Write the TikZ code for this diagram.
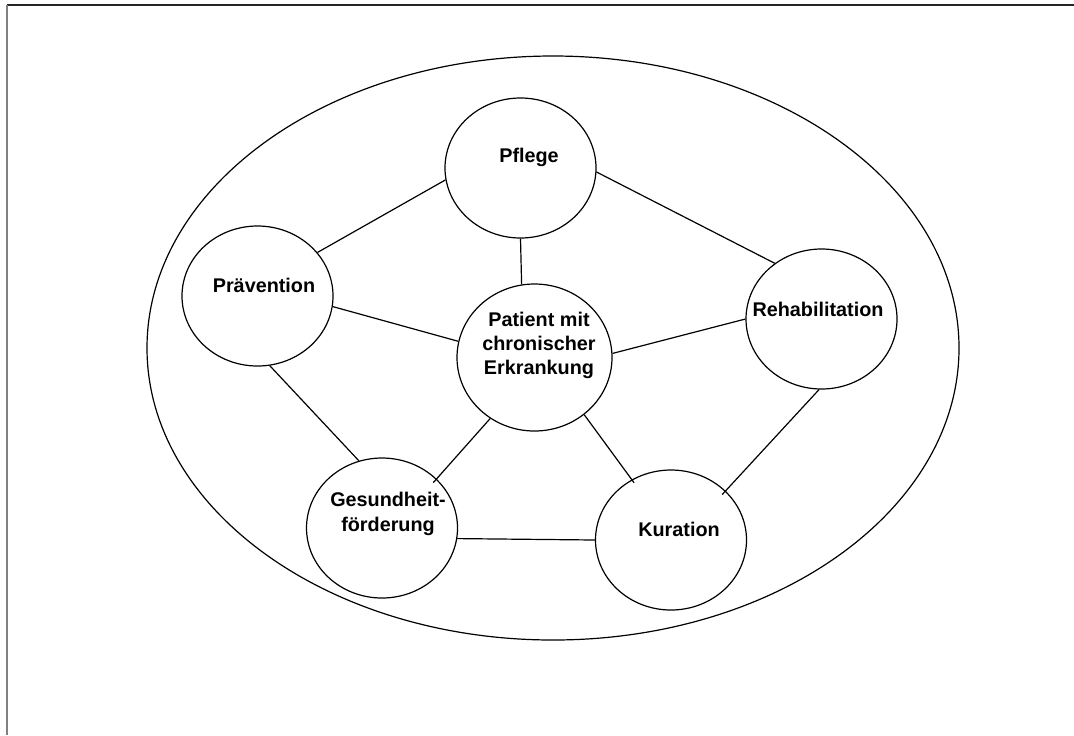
\documentclass[tikz,border=0pt]{standalone}
\usepackage{fontspec}
\setmainfont{Liberation Sans}
\usetikzlibrary{shapes.geometric}
\begin{document}
\begin{tikzpicture}[x=0.5pt,y=-0.5pt,
  bub/.style={draw,ellipse,line width=0.6pt,inner sep=0pt,minimum width=75.5pt,minimum height=70pt},
  lbl/.style={font=\fontsize{9.9}{12.2}\selectfont\bfseries,align=center,inner sep=0pt},
  con/.style={line width=0.6pt}]
\useasboundingbox (0,0) rectangle (1074,735);
% page frame
\coordinate (ftl) at (6.5,5);
\coordinate (ftr) at (1074,5);
\coordinate (fbl) at (6.5,735);
\draw[line width=1pt,black!85] (ftl) -- (ftr);
\draw[line width=1pt,black!50] (ftl) -- (fbl);
% outer ellipse
\node[draw,ellipse,line width=0.6pt,inner sep=0pt,minimum width=406pt,minimum height=292pt] (outer) at (553,348) {};
% bubbles
\node[bub] (pfl) at (520.5,168) {};
\node[bub] (pra) at (257.5,296) {};
\node[bub,minimum width=77.5pt,minimum height=73.5pt] (pat) at (534.5,357.5) {};
\node[bub] (reh) at (821.5,319) {};
\node[bub] (ges) at (382,528) {};
\node[bub] (kur) at (671,540) {};
% texts
\node[lbl] (pflt) at (529,157.5) {Pflege};
\node[lbl] (prat) at (264,285) {Prävention};
\node[lbl] (patt) at (539,345.5) {Patient mit\\chronischer\\Erkrankung};
\node[lbl] (reht) at (818,309) {Rehabilitation};
\node[lbl] (gest) at (388,514) {Gesundheit-\\förderung};
\node[lbl] (kurt) at (679,529.5) {Kuration};
% connectors
\draw[con] (pfl.189.3) -- (pra.36.9);
\draw[con] (pfl.-3) -- (reh.130.5);
\draw[con] (pfl.south) -- (pat.100);
\draw[con] (pra.-8.4) -- (pat.168);
\draw[con] (pra.280.3) -- (ges.109.2);
\draw[con] (pat.3.7) -- (reh.180);
\draw[con,shorten >=-2.5pt] (pat.234.4) -- (ges.42);
\draw[con,shorten >=-2pt] (pat.311.7) -- (kur.123.2);
\draw[con,shorten >=-2.5pt] (reh.268.8) -- (kur.42.7);
\draw[con] (ges.352) -- (kur.180);
\end{tikzpicture}
\end{document}
